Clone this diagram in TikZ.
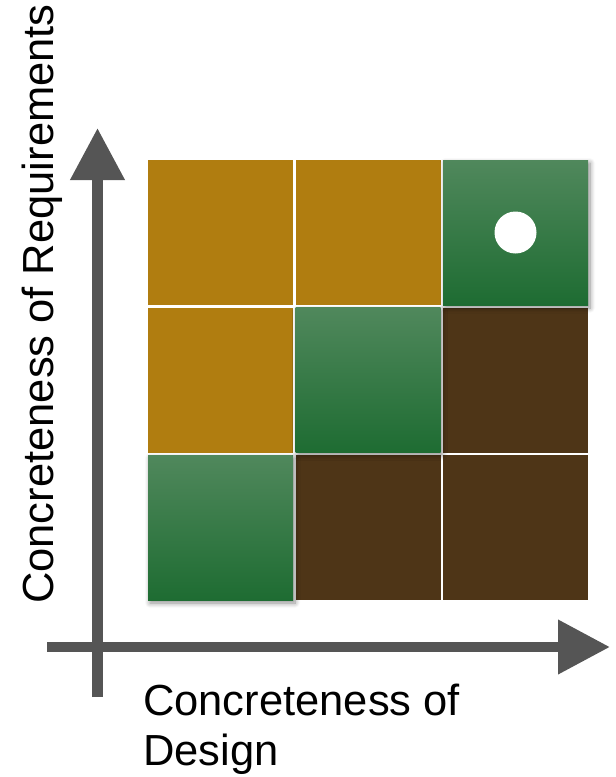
\documentclass[tikz,border=0pt]{standalone}
\usepackage{fontspec}
\setmainfont{Liberation Sans}
\usetikzlibrary{arrows.meta, positioning, shadows.blur}
\definecolor{ochrecell}{RGB}{176,125,16}
\definecolor{browncell}{RGB}{78,53,23}
\definecolor{greentop}{RGB}{80,136,92}
\definecolor{greenmid}{RGB}{36,121,58}
\definecolor{greenbottom}{RGB}{30,108,50}
\definecolor{axisgrey}{RGB}{85,85,85}

\begin{document}
\begin{tikzpicture}[
    x=1pt, y=-1pt,
    cell/.style={minimum size=145pt, inner sep=0pt, outer sep=0pt},
    ochre/.style={cell, fill=ochrecell},
    brown/.style={cell, fill=browncell},
    good/.style={cell, top color=greentop, middle color=greenmid, bottom color=greenbottom,
        blur shadow={shadow xshift=2pt, shadow yshift=-3pt, shadow blur steps=8, shadow blur radius=5pt, shadow opacity=45}},
    axis/.style={line width=10.5pt, draw=axisgrey, -{Triangle[length=52pt, width=52pt]}},
    label/.style={font=\fontsize{43.5}{50}\selectfont, inner sep=0pt}
]
    \useasboundingbox (0,0) rectangle (616,777);

    % Axes
    \coordinate (ybottom) at (97.5,697);
    \coordinate (ytop) at (97.5,128);
    \coordinate (xleft) at (47,647);
    \coordinate (xright) at (610,647);
    \draw[axis] (ybottom) -- (ytop);
    \draw[axis] (xleft) -- (xright);

    % Grid of cells
    \node[ochre] (r1c1) at (220.5,232.5) {};
    \node[ochre] (r1c2) at (368,232.5) {};
    \node[ochre] (r2c1) at (220.5,380) {};
    \node[brown] (r2c3) at (515.5,380) {};
    \node[brown] (r3c2) at (368,527.5) {};
    \node[brown] (r3c3) at (515.5,527.5) {};
    \node[good] (r3c1) at (220.5,527.5) {};
    \node[good] (r2c2) at (368,380) {};
    \node[good] (r1c3) at (515.5,232.5) {};

    % Current position
    \node[circle, fill=white, minimum size=42pt, inner sep=0pt] (dot) at (r1c3) {};

    % Axis labels
    \node[label, rotate=90, anchor=base west] (ylabel) at (53,604) {Concreteness of Requirements};
    \node[label, anchor=base west, align=left] (xlabel) at (143,765) {Concreteness of\\Design};
\end{tikzpicture}
\end{document}
